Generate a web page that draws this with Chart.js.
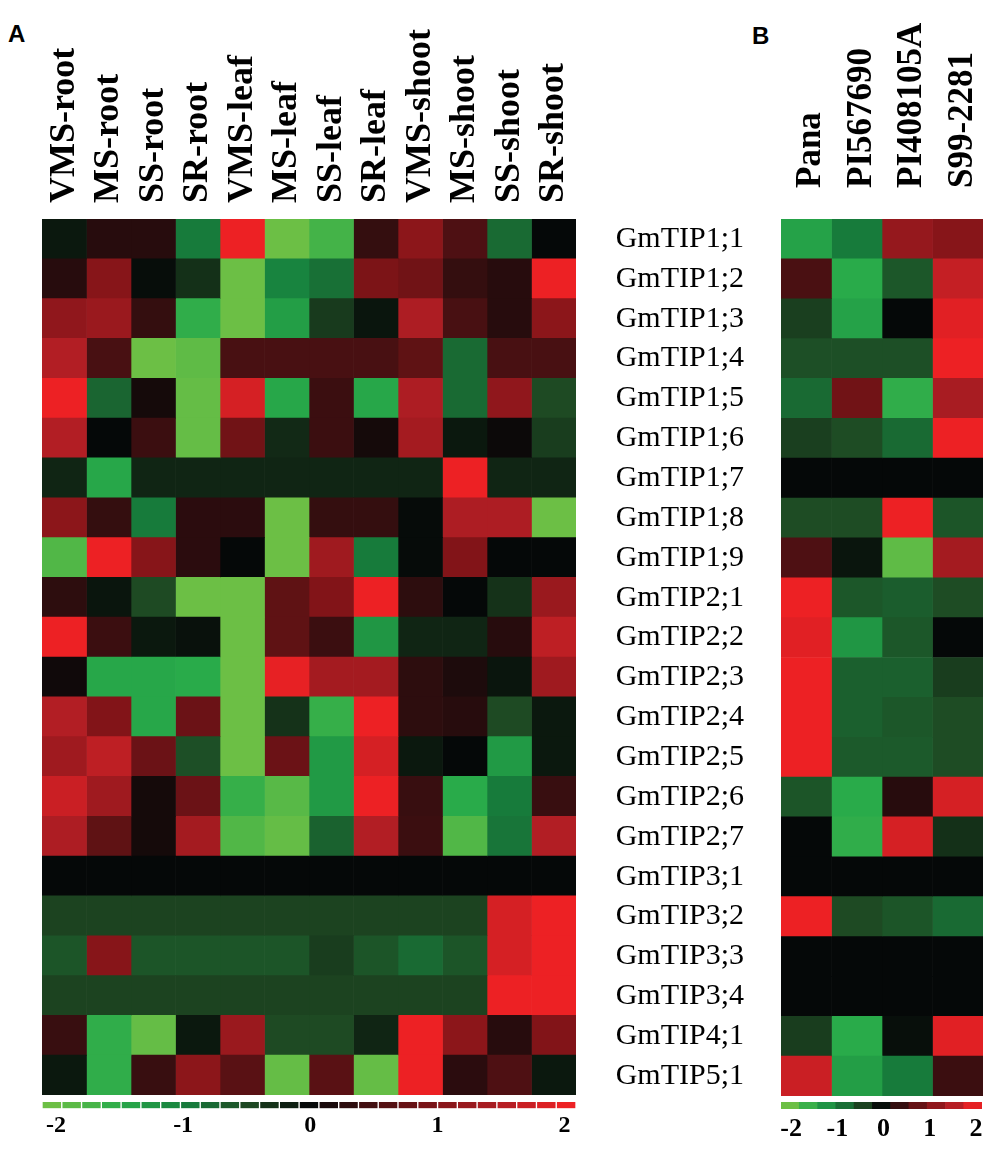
<!DOCTYPE html>
<html>
<head>
<meta charset="utf-8">
<script src="https://cdn.jsdelivr.net/npm/chart.js@4.4.1/dist/chart.umd.min.js"></script>
<style>
  html, body { margin: 0; padding: 0; background: #fff; }
  body { width: 1000px; height: 1151px; position: relative; overflow: hidden; }
  canvas { position: absolute; }
  .panel { position: absolute; font: bold 24px "Liberation Sans", Arial, sans-serif; color: #000; }
</style>
</head>
<body>
<div class="panel" style="left:8px; top:20px">A</div>
<div class="panel" style="left:752px; top:22px">B</div>
<canvas id="heatA" width="600" height="1097" style="left:0;top:0"></canvas>
<canvas id="heatB" width="400" height="1151" style="left:600px;top:0"></canvas>
<canvas id="keyA" width="600" height="54" style="left:0;top:1097px"></canvas>
<canvas id="keyB" width="240" height="54" style="left:760px;top:1097px"></canvas>
<script>
const genes = ['GmTIP1;1', 'GmTIP1;2', 'GmTIP1;3', 'GmTIP1;4', 'GmTIP1;5', 'GmTIP1;6',
  'GmTIP1;7', 'GmTIP1;8', 'GmTIP1;9', 'GmTIP2;1', 'GmTIP2;2', 'GmTIP2;3', 'GmTIP2;4',
  'GmTIP2;5', 'GmTIP2;6', 'GmTIP2;7', 'GmTIP3;1', 'GmTIP3;2', 'GmTIP3;3', 'GmTIP3;4',
  'GmTIP4;1', 'GmTIP5;1'];
const tissues = ['VMS-root', 'MS-root', 'SS-root', 'SR-root', 'VMS-leaf', 'MS-leaf',
  'SS-leaf', 'SR-leaf', 'VMS-shoot', 'MS-shoot', 'SS-shoot', 'SR-shoot'];
const genotypes = ['Pana', 'PI567690', 'PI408105A', 'S99-2281'];
const tickValues = [-2, -1, 0, 1, 2];

// panel A: one array per tissue, genes top to bottom
const vmsRoot  = [-0.12, 0.25, 1.15, 1.5, 2, 1.5, -0.22, 1.1, -1.8, 0.3, 2, 0.08, 1.5, 1.3, 1.7, 1.45, 0, -0.45, -0.6, -0.45, 0.38, -0.12];
const msRoot   = [0.25, 1.05, 1.25, 0.5, -0.75, 0, -1.45, 0.35, 2, -0.1, 0.4, -1.45, 1.0, 1.6, 1.3, 0.7, 0, -0.45, 1.05, -0.45, -1.55, -1.55];
const ssRoot   = [0.25, -0.04, 0.35, -2, 0.12, 0.4, -0.22, -0.95, 1.05, -0.5, -0.12, -1.45, -1.45, 0.8, 0.12, 0.12, 0, -0.45, -0.6, -0.45, -1.95, 0.38];
const srRoot   = [-0.95, -0.3, -1.55, -1.9, -1.95, -1.95, -0.22, 0.28, 0.28, -2, -0.07, -1.5, 0.8, -0.55, 0.8, 1.35, 0, -0.45, -0.6, -0.45, -0.12, 1.1];
const vmsLeaf  = [2, -2, -2, 0.5, 1.8, 0.85, -0.22, 0.28, 0, -2, -2, -2, -2, -2, -1.6, -1.8, 0, -0.45, -0.6, -0.45, 1.25, 0.65];
const msLeaf   = [-2, -1.05, -1.35, 0.5, -1.45, -0.25, -0.22, -2, -2, 0.7, 0.7, 1.95, -0.32, 0.8, -1.85, -1.95, 0, -0.45, -0.6, -0.45, -0.5, -1.95];
const ssLeaf   = [-1.7, -0.85, -0.38, 0.5, 0.4, 0.4, -0.22, 0.35, 1.3, 1.0, 0.4, 1.35, -1.6, -1.3, -1.3, -0.72, 0, -0.45, -0.4, -0.45, -0.5, 0.65];
const srLeaf   = [0.35, 0.95, -0.1, 0.5, -1.45, 0.12, -0.22, 0.35, -0.95, 2, -1.25, 1.35, 2, 1.8, 2, 1.5, 0, -0.45, -0.6, -0.45, -0.22, -1.95];
const vmsShoot = [1.1, 0.85, 1.45, 0.7, 1.45, 1.35, -0.22, -0.02, -0.02, 0.3, -0.22, 0.3, 0.3, -0.12, 0.38, 0.4, 0, -0.45, -0.8, -0.45, 2, 2];
const msShoot  = [0.55, 0.35, 0.5, -0.8, -0.8, -0.12, 2, 1.45, 1.0, 0, -0.22, 0.18, 0.25, 0, -1.5, -1.8, 0, -0.45, -0.6, -0.45, 1.1, 0.28];
const ssShoot  = [-0.8, 0.25, 0.25, 0.5, 1.15, 0.05, -0.22, 1.45, 0, -0.32, 0.25, -0.1, -0.5, -1.3, -0.95, -0.9, 0, 1.8, 1.8, 2, 0.25, 0.55];
const srShoot  = [0, 2, 1.1, 0.5, -0.5, -0.4, -0.22, -2, 0, 1.25, 1.6, 1.3, -0.12, -0.12, 0.38, 1.5, 0, 2, 2, 2, 1.0, -0.12];

// panel B: one array per genotype
const pana      = [-1.4, 0.52, -0.42, -0.55, -0.8, -0.42, 0, -0.52, 0.55, 2, 1.9, 2, 2, 2, -0.6, 0, 0, 2, 0, 0, -0.4, 1.7];
const pi567690  = [-0.95, -1.5, -1.4, -0.55, 0.85, -0.52, 0, -0.52, -0.1, -0.62, -1.25, -0.7, -0.7, -0.65, -1.5, -1.55, 0, -0.5, 0, 0, -1.5, -1.35];
const pi408105a = [1.2, -0.62, 0, -0.55, -1.55, -0.8, 0, 2, -1.9, -0.68, -0.62, -0.7, -0.62, -0.65, 0.25, 1.8, 0, -0.6, 0, 0, -0.05, -0.95];
const s992281   = [1.05, 1.65, 1.9, 2, 1.4, 2, 0, -0.6, 1.35, -0.52, 0, -0.4, -0.52, -0.52, 1.8, -0.3, 0, -0.8, 0, 0, 1.9, 0.4];

const panelA = [vmsRoot, msRoot, ssRoot, srRoot, vmsLeaf, msLeaf, ssLeaf, srLeaf, vmsShoot, msShoot, ssShoot, srShoot];
const panelB = [pana, pi567690, pi408105a, s992281];

// green - black - red colour ramp
const rampStops = [-2, -1.5, -1, -0.5, 0, 0.5, 1, 1.5, 2];
const rampRgb = [[108, 191, 69], [41, 171, 74], [22, 128, 62], [30, 74, 35], [5, 8, 8],
  [72, 16, 18], [130, 20, 24], [178, 30, 36], [237, 33, 36]];

function valueColor(v) {
  v = Math.max(-2, Math.min(2, v));
  let i = 0;
  while (i < rampStops.length - 2 && v > rampStops[i + 1]) i++;
  const t = (v - rampStops[i]) / (rampStops[i + 1] - rampStops[i]);
  const a = rampRgb[i], b = rampRgb[i + 1];
  const c = a.map((x, k) => Math.round(x + (b[k] - x) * t));
  return 'rgb(' + c.join(',') + ')';
}

const SERIF = '"Liberation Serif", "Times New Roman", serif';

// rotated column headers above the cells
const columnLabels = {
  id: 'columnLabels',
  afterDraw(chart, args, opts) {
    const {ctx, chartArea} = chart;
    const xs = chart.scales.x;
    ctx.save();
    ctx.font = opts.font;
    ctx.fillStyle = '#000';
    ctx.textAlign = 'left';
    ctx.textBaseline = 'middle';
    opts.labels.forEach((label, i) => {
      ctx.save();
      ctx.translate(xs.getPixelForValue(i + 0.5) + opts.shift, chartArea.top - opts.gap);
      ctx.rotate(-Math.PI / 2);
      ctx.fillText(label, 0, 0);
      ctx.restore();
    });
    ctx.restore();
  }
};

function heatmap(id, columns, names, cfg) {
  return new Chart(document.getElementById(id), {
    type: 'bar',
    data: {
      labels: genes,
      datasets: columns.map((col, j) => ({
        label: names[j],
        data: col.map(() => 1),
        backgroundColor: col.map(valueColor),
        borderWidth: 0,
        barPercentage: 1,
        categoryPercentage: 1
      }))
    },
    options: {
      indexAxis: 'y',
      responsive: false,
      animation: false,
      events: [],
      layout: { padding: cfg.padding },
      plugins: {
        legend: { display: false },
        tooltip: { enabled: false },
        columnLabels: { labels: names, font: cfg.headFont, gap: cfg.headGap, shift: cfg.headShift }
      },
      scales: {
        x: { type: 'linear', stacked: true, min: 0, max: names.length, display: false },
        y: {
          stacked: true,
          display: cfg.showGenes,
          grid: { display: false, drawTicks: false },
          border: { display: false },
          ticks: { autoSkip: false, color: '#000', padding: 37, font: { family: SERIF, size: 30 } },
          afterFit(s) { s.width = cfg.axisWidth; }
        }
      }
    },
    plugins: [columnLabels]
  });
}

function colorKey(id, cfg) {
  const span = cfg.max - cfg.min;
  const segs = Array.from({ length: cfg.segments }, (_, i) =>
    [cfg.min + span * i / cfg.segments, cfg.min + span * (i + 1) / cfg.segments]);
  return new Chart(document.getElementById(id), {
    type: 'bar',
    data: {
      labels: ['key'],
      datasets: [{
        data: segs.map(s => ({ y: 'key', x: s })),
        backgroundColor: segs.map(s => valueColor((s[0] + s[1]) / 2)),
        borderColor: '#fff',
        borderWidth: cfg.gap ? { left: cfg.gap, right: cfg.gap, top: 0, bottom: 0 } : 0,
        borderSkipped: false,
        barPercentage: 1,
        categoryPercentage: 1
      }]
    },
    options: {
      indexAxis: 'y',
      responsive: false,
      animation: false,
      events: [],
      layout: { padding: cfg.padding },
      plugins: { legend: { display: false }, tooltip: { enabled: false } },
      scales: {
        y: { display: false },
        x: {
          type: 'linear',
          min: cfg.min,
          max: cfg.max,
          grid: { display: false, drawTicks: false },
          border: { display: false },
          afterBuildTicks(s) { s.ticks = tickValues.map(v => ({ value: v })); },
          afterFit(s) { s.height = cfg.axisHeight; },
          ticks: { autoSkip: false, maxRotation: 0, color: '#000', padding: cfg.tickPad,
                   font: { family: SERIF, size: cfg.fontSize, weight: 'bold' } }
        }
      }
    }
  });
}

heatmap('heatA', panelA, tissues, {
  padding: { left: 42, right: 24, top: 219, bottom: 2 },
  showGenes: false, axisWidth: 0,
  headFont: 'bold 36px ' + SERIF, headGap: 16, headShift: 0
});
heatmap('heatB', panelB, genotypes, {
  padding: { left: 0, right: 17, top: 219, bottom: 55 },
  showGenes: true, axisWidth: 181,
  headFont: 'bold 35px ' + SERIF, headGap: 31, headShift: 5
});
colorKey('keyA', { min: -2.11, max: 2.09, segments: 27, gap: 1,
  padding: { left: 42, right: 24, top: 5, bottom: 0 }, axisHeight: 42.5, tickPad: 3, fontSize: 24 });
colorKey('keyB', { min: -2.22, max: 2.13, segments: 11, gap: 0,
  padding: { left: 21, right: 18, top: 5, bottom: 0 }, axisHeight: 42, tickPad: 5, fontSize: 26 });
</script>
</body>
</html>
